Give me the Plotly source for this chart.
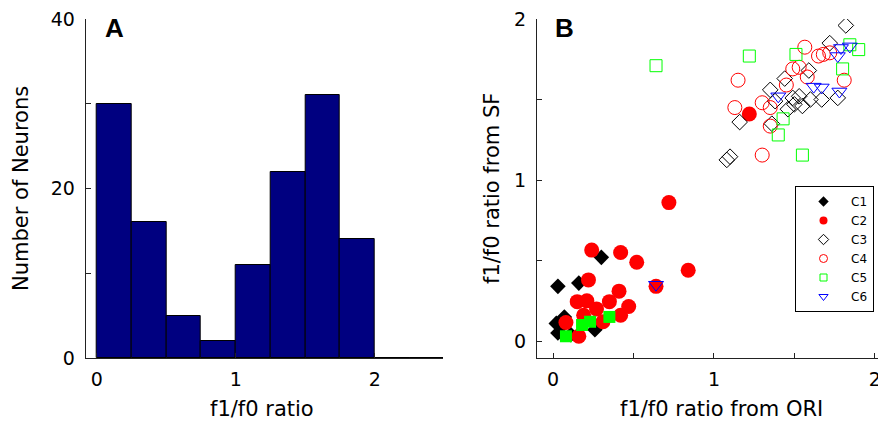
import plotly.graph_objects as go

# ---------------- Panel A data (histogram) ----------------
bin_edges = [0.0, 0.25, 0.5, 0.75, 1.0, 1.25, 1.5, 1.75, 2.0, 2.25, 2.5]
counts = [30, 16, 5, 2, 11, 22, 31, 14, 0, 0]

# ---------------- Panel B data (scatter) ----------------
c1_x = [0.30, 0.03, 0.16, 0.02, 0.07, 0.03, 0.11, 0.26, 0.05]
c1_y = [0.52, 0.34, 0.36, 0.11, 0.15, 0.05, 0.04, 0.07, 0.09]

c2_x = [0.24, 0.42, 0.52, 0.22, 0.41, 0.15, 0.21, 0.27, 0.35, 0.47, 0.42, 0.31,
        0.08, 0.16, 0.19, 0.72, 0.84, 0.64, 1.22]
c2_y = [0.565, 0.55, 0.49, 0.38, 0.31, 0.245, 0.25, 0.20, 0.245, 0.215, 0.16, 0.12,
        0.115, 0.03, 0.16, 0.86, 0.44, 0.34, 1.41]

c3_x = [1.82, 1.72, 1.59, 1.44, 1.35, 1.53, 1.49, 1.50, 1.46, 1.55, 1.60, 1.67,
        1.77, 1.38, 1.36, 1.16, 1.10, 1.08]
c3_y = [1.96, 1.85, 1.68, 1.63, 1.56, 1.52, 1.51, 1.47, 1.44, 1.46, 1.50, 1.50,
        1.51, 1.49, 1.35, 1.36, 1.145, 1.125]

c4_x = [1.565, 1.65, 1.68, 1.72, 1.49, 1.53, 1.58, 1.45, 1.15, 1.13, 1.30, 1.35,
        1.35, 1.30, 1.81]
c4_y = [1.825, 1.77, 1.78, 1.79, 1.69, 1.70, 1.64, 1.59, 1.62, 1.45, 1.48, 1.45,
        1.335, 1.155, 1.62]

c5f_x = [0.08, 0.18, 0.23, 0.35]
c5f_y = [0.03, 0.10, 0.12, 0.15]

c5_x = [0.64, 1.22, 1.51, 1.845, 1.90, 1.80, 1.43, 1.40, 1.55]
c5_y = [1.71, 1.77, 1.78, 1.84, 1.81, 1.69, 1.38, 1.28, 1.155]

c6_x = [1.79, 1.845, 1.77, 1.40, 1.62, 1.67, 1.78, 0.64]
c6_y = [1.82, 1.83, 1.77, 1.52, 1.58, 1.575, 1.55, 0.35]

legend_names = ["C1", "C2", "C3", "C4", "C5", "C6"]

FONT = "DejaVu Sans"
W, H = 878, 423

fig = go.Figure()

# Histogram bars
centers = [(bin_edges[i] + bin_edges[i + 1]) / 2 for i in range(len(counts))]
widths = [bin_edges[i + 1] - bin_edges[i] for i in range(len(counts))]
fig.add_trace(go.Bar(x=centers, y=counts, width=widths,
                     marker=dict(color="#000080", line=dict(color="black", width=1)),
                     xaxis="x", yaxis="y", showlegend=False))

RED = "#ff0000"
GREEN = "#00ff00"
BLUE = "#0000ff"

series = [
    (c1_x, c1_y, dict(symbol="diamond", size=12, color="black", line=dict(width=0))),
    (c2_x, c2_y, dict(symbol="circle", size=15, color=RED, line=dict(width=0))),
    (c3_x, c3_y, dict(symbol="diamond-open", size=12, color="black", line=dict(width=1))),
    (c4_x, c4_y, dict(symbol="circle-open", size=14, color=RED, line=dict(width=1))),
    (c5f_x, c5f_y, dict(symbol="square", size=12, color=GREEN, line=dict(width=0))),
    (c5_x, c5_y, dict(symbol="square-open", size=12, color=GREEN, line=dict(width=1))),
    (c6_x, c6_y, dict(symbol="triangle-down-open", size=13, color=BLUE, line=dict(width=1))),
]
for xs, ys, mk in series:
    fig.add_trace(go.Scatter(x=xs, y=ys, mode="markers", marker=mk,
                             xaxis="x2", yaxis="y2", showlegend=False))

# Legend entries (small markers like the original legend)
leg_markers = [
    dict(symbol="diamond", size=8, color="black"),
    dict(symbol="circle", size=8, color=RED),
    dict(symbol="diamond-open", size=8, color="black", line=dict(width=1)),
    dict(symbol="circle-open", size=8, color=RED, line=dict(width=1)),
    dict(symbol="square-open", size=7, color=GREEN, line=dict(width=1)),
    dict(symbol="triangle-down-open", size=8, color=BLUE, line=dict(width=1)),
]
for name, mk in zip(legend_names, leg_markers):
    fig.add_trace(go.Scatter(x=[None], y=[None], mode="markers", marker=mk, name=name,
                             xaxis="x2", yaxis="y2", showlegend=True))

axis_common = dict(showline=True, linecolor="#222", linewidth=1, ticks="inside",
                   ticklen=5, tickcolor="#222", showgrid=False, zeroline=False,
                   automargin=False, ticklabeloverflow="allow",
                   tickfont=dict(family=FONT, size=19, color="black"), mirror=False)

ydom = [1 - 358 / H, 1 - 19 / H]
fig.update_layout(
    width=W, height=H, margin=dict(l=0, r=0, t=0, b=0, autoexpand=False),
    plot_bgcolor="white", paper_bgcolor="white",
    bargap=0,
    xaxis=dict(domain=[85.7 / W, 443 / W], range=[-0.08, 2.49],
               tickvals=[0, 1, 2], ticktext=["0", "1", "2"], ticklabelstandoff=4, **axis_common),
    yaxis=dict(domain=ydom, range=[0, 40],
               tickvals=[0, 10, 20, 30, 40], ticktext=["0", "", "20", "", "40"],
               ticklabelstandoff=6, **axis_common),
    xaxis2=dict(domain=[537 / W, 1.0], range=[-0.1, 2.02], anchor="y2",
                tickvals=[0, 0.5, 1, 1.5, 2], ticktext=["0", "", "1", "", "2"],
                ticklabelstandoff=4, **axis_common),
    yaxis2=dict(domain=ydom, range=[-0.105, 2.0], anchor="x2",
                tickvals=[0, 0.5, 1, 1.5, 2], ticktext=["0", "", "1", "", "2"],
                ticklabelstandoff=6, **axis_common),
    legend=dict(x=795 / W, y=1 - 186 / H, xanchor="left", yanchor="top",
                bordercolor="black", borderwidth=1, bgcolor="white",
                font=dict(family=FONT, size=12, color="black"),
                itemwidth=45, tracegroupgap=0, itemsizing="trace"),
    font=dict(family=FONT, color="black"),
)

def px_ann(text, x, y, size, angle=0, bold=False):
    fig.add_annotation(text=f"<b>{text}</b>" if bold else text,
                       x=x / W, y=1 - y / H, xref="paper", yref="paper",
                       xanchor="center", yanchor="middle", showarrow=False,
                       textangle=angle,
                       font=dict(family=FONT if not bold else "Liberation Sans",
                                 size=size, color="black"))

px_ann("f1/f0 ratio", 262, 409, 21)
px_ann("Number of Neurons", 21, 189, 21, angle=-90)
px_ann("f1/f0 ratio from ORI", 721, 409, 21)
px_ann("f1/f0 ratio from SF", 492, 189, 21, angle=-90)
px_ann("A", 114, 28, 26, bold=True)
px_ann("B", 564, 28, 26, bold=True)

fig.write_html("out.html")
